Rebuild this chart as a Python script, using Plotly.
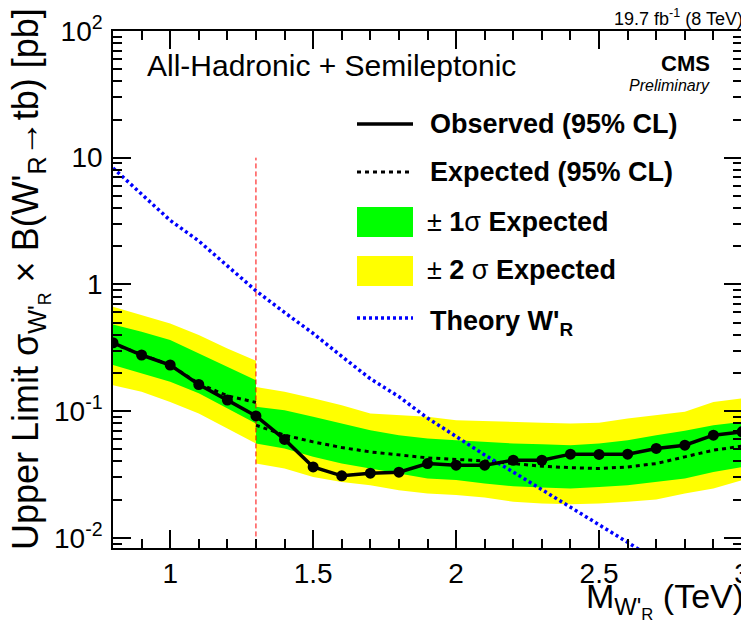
import plotly.graph_objects as go

# W'_R mass points (TeV)
mass = [0.8, 0.9, 1.0, 1.1, 1.2, 1.3, 1.4, 1.5, 1.6, 1.7, 1.8, 1.9,
        2.0, 2.1, 2.2, 2.3, 2.4, 2.5, 2.6, 2.7, 2.8, 2.9, 3.0]
observed = [0.346, 0.277, 0.231, 0.162, 0.122, 0.0916, 0.0597, 0.0362, 0.0308, 0.0323, 0.0329, 0.0385,
            0.0374, 0.0374, 0.0409, 0.0409, 0.0457, 0.0455, 0.0457, 0.0507, 0.0538, 0.0645, 0.0686]

# semileptonic region (low mass)
mass_lo = [0.8, 0.9, 1.0, 1.1, 1.2, 1.3]
exp_lo = [0.34, 0.28, 0.23, 0.165, 0.132, 0.117]
p1_lo = [0.483, 0.423, 0.363, 0.285, 0.223, 0.175]
m1_lo = [0.231, 0.198, 0.170, 0.138, 0.105, 0.0798]
p2_lo = [0.665, 0.573, 0.492, 0.398, 0.312, 0.249]
m2_lo = [0.160, 0.142, 0.118, 0.0957, 0.0729, 0.0555]

# all-hadronic region (high mass)
mass_hi = [1.3, 1.4, 1.5, 1.6, 1.7, 1.8, 1.9, 2.0, 2.1, 2.2, 2.3, 2.4, 2.5, 2.6, 2.7, 2.8, 2.9, 3.0]
exp_hi = [0.0774, 0.0645, 0.0571, 0.0515, 0.0476, 0.0449, 0.0427, 0.0415, 0.0404, 0.0385, 0.0367,
          0.0357, 0.0352, 0.0362, 0.0385, 0.0435, 0.0491, 0.0528]
p1_hi = [0.108, 0.1016, 0.090, 0.0798, 0.0706, 0.0645, 0.0608, 0.0589, 0.0571, 0.0555, 0.0548,
         0.0538, 0.0555, 0.0589, 0.0645, 0.0698, 0.0774, 0.0822]
m1_hi = [0.0555, 0.0507, 0.0435, 0.0385, 0.0352, 0.0321, 0.0294, 0.0285, 0.0268, 0.0255, 0.0249,
         0.0245, 0.0252, 0.0260, 0.0276, 0.0294, 0.0331, 0.0362]
p2_hi = [0.155, 0.142, 0.126, 0.111, 0.0957, 0.0929, 0.090, 0.0848, 0.0832, 0.0822, 0.0807,
         0.0798, 0.0807, 0.0875, 0.0929, 0.0986, 0.118, 0.126]
m2_hi = [0.0385, 0.0352, 0.0302, 0.0276, 0.0260, 0.0237, 0.0223, 0.0217, 0.0208, 0.0192, 0.0186,
         0.0184, 0.0186, 0.0192, 0.0200, 0.0223, 0.0245, 0.0285]

# theory cross section
mass_th = [0.8, 0.9, 1.0, 1.1, 1.2, 1.3, 1.4, 1.5, 1.6, 1.7, 1.8, 1.9, 2.0, 2.1, 2.2, 2.3, 2.4, 2.5, 2.6, 2.7]
theory = [8.3, 5.2, 3.2, 2.2, 1.4, 0.89, 0.60, 0.41, 0.27, 0.18, 0.13, 0.088, 0.063, 0.045,
          0.033, 0.024, 0.0175, 0.0128, 0.0092, 0.0066]

split_mass = 1.3
split_top = 10

ytick_vals = [0.01, 0.1, 1, 10, 100]
ytick_text = ["10<sup>-2</sup>", "10<sup>-1</sup>", "1", "10", "10<sup>2</sup>"]
xtick_vals = [1, 1.5, 2, 2.5, 3]
xtick_text = ["1", "1.5", "2", "2.5", "3"]

FONT = "Liberation Sans, Arial"
GREEN = "#00ff00"
YELLOW = "#ffff00"


def band(xs, hi, lo, color):
    return go.Scatter(x=xs + xs[::-1], y=hi + lo[::-1], fill="toself", fillcolor=color,
                      line=dict(width=0), mode="lines", hoverinfo="skip", showlegend=False)


fig = go.Figure()
fig.add_trace(band(mass_lo, p2_lo, m2_lo, YELLOW))
fig.add_trace(band(mass_hi, p2_hi, m2_hi, YELLOW))
fig.add_trace(band(mass_lo, p1_lo, m1_lo, GREEN))
fig.add_trace(band(mass_hi, p1_hi, m1_hi, GREEN))
for xs, ys in [(mass_lo, exp_lo), (mass_hi, exp_hi)]:
    fig.add_trace(go.Scatter(x=xs, y=ys, mode="lines", showlegend=False,
                             line=dict(color="black", width=3, dash="4px,4px")))
fig.add_trace(go.Scatter(x=mass_th, y=theory, mode="lines", showlegend=False,
                         line=dict(color="#0000ff", width=3.5, dash="3px,3px")))
fig.add_trace(go.Scatter(x=[split_mass, split_mass], y=[0.001, split_top], mode="lines", showlegend=False,
                         line=dict(color="#ff0000", width=1, dash="5px,3px")))
fig.add_trace(go.Scatter(x=mass, y=observed, mode="lines+markers", showlegend=False,
                         line=dict(color="black", width=3.5),
                         marker=dict(color="black", size=11)))

# the page body adds an 8px margin, so the figure is 8px smaller than the window
PAGE = 8
W, H = 749 - PAGE, 627 - PAGE
L, R, T, B = 105, 7, 23, 79
pw, ph = W - L - R, H - T - B


def px(x):
    return (x - PAGE - L) / pw


def py(y):
    return (H - B - (y - PAGE)) / ph


# hand-drawn legend (ROOT style)
shapes = [
    dict(type="line", xref="paper", yref="paper", x0=px(357), x1=px(413), y0=py(124), y1=py(124),
         line=dict(color="black", width=3.5)),
    dict(type="line", xref="paper", yref="paper", x0=px(357), x1=px(413), y0=py(172), y1=py(172),
         line=dict(color="black", width=3, dash="4px,4px")),
    dict(type="rect", xref="paper", yref="paper", x0=px(357), x1=px(413), y0=py(237), y1=py(207),
         fillcolor=GREEN, line=dict(width=0)),
    dict(type="rect", xref="paper", yref="paper", x0=px(357), x1=px(413), y0=py(286), y1=py(256),
         fillcolor=YELLOW, line=dict(width=0)),
    dict(type="line", xref="paper", yref="paper", x0=px(357), x1=px(413), y0=py(318), y1=py(318),
         line=dict(color="#0000ff", width=3.5, dash="3px,3px")),
]
legend_text = [
    ("<b>Observed (95% CL)</b>", 428, 124),
    ("<b>Expected (95% CL)</b>", 428, 172),
    ("± <b>1</b>σ <b>Expected</b>", 425, 222),
    ("± <b>2</b> σ <b>Expected</b>", 425, 270),
    ("<b>Theory W'<sub>R</sub></b>", 428, 323),
]
annotations = []
for txt, x, y in legend_text:
    annotations.append(dict(text=txt, xref="paper", yref="paper", x=px(x), y=py(y), xanchor="left",
                            yanchor="middle", showarrow=False, font=dict(family=FONT, size=27, color="black")))

annotations += [
    dict(text="All-Hadronic + Semileptonic", xref="paper", yref="paper", x=px(145), y=py(65),
         xanchor="left", yanchor="middle", showarrow=False, font=dict(family=FONT, size=30, color="black")),
    dict(text="<b>CMS</b>", xref="paper", yref="paper", x=px(712), y=py(64), xanchor="right",
         yanchor="middle", showarrow=False, font=dict(family=FONT, size=22, color="black")),
    dict(text="<i>Preliminary</i>", xref="paper", yref="paper", x=px(712), y=py(85), xanchor="right",
         yanchor="middle", showarrow=False, font=dict(family=FONT, size=16, color="black")),
    dict(text="19.7 fb<sup>-1</sup> (8 TeV)", xref="paper", yref="paper", x=px(745), y=py(17),
         xanchor="right", yanchor="middle", showarrow=False, font=dict(family=FONT, size=18, color="black")),
    dict(text="Upper Limit σ<sub>W'<sub>R</sub></sub> × B(W'<sub>R</sub>→tb) [pb]", xref="paper", yref="paper",
         x=px(30), y=py(6), xanchor="center", yanchor="top", textangle=-90, showarrow=False,
         font=dict(family=FONT, size=36, color="black")),
    dict(text="M<sub>W'<sub>R</sub></sub> (TeV)", xref="paper", yref="paper", x=px(746), y=py(600),
         xanchor="right", yanchor="middle", showarrow=False, font=dict(family=FONT, size=34, color="black")),
]

fig.update_layout(
    width=W, height=H,
    margin=dict(l=L, r=R, t=T, b=B),
    paper_bgcolor="white", plot_bgcolor="white",
    showlegend=False,
    shapes=shapes,
    annotations=annotations,
    xaxis=dict(range=[0.8, 3.0], tickvals=xtick_vals, ticktext=xtick_text, ticks="inside", ticklen=18,
               tickwidth=1.5, tickcolor="black", showline=True, linecolor="black", linewidth=1.5,
               mirror="ticks", showgrid=False, zeroline=False, ticklabelstandoff=0, automargin=False,
               ticklabeloverflow="allow",
               tickfont=dict(family=FONT, size=28, color="black"),
               minor=dict(dtick=0.1, tick0=0.8, ticks="inside", ticklen=9, tickcolor="black", tickwidth=1.5,
                          showgrid=False)),
    yaxis=dict(type="log", range=[-2.081, 2.0], tickvals=ytick_vals, ticktext=ytick_text, ticks="inside",
               ticklen=18, tickwidth=1.5, tickcolor="black", showline=True, linecolor="black", linewidth=1.5,
               mirror="ticks", showgrid=False, zeroline=False, ticklabelstandoff=3, automargin=False,
               ticklabeloverflow="allow",
               tickfont=dict(family=FONT, size=28, color="black"),
               minor=dict(dtick="D1", ticks="inside", ticklen=9, tickcolor="black", tickwidth=1.5,
                          showgrid=False)),
)

fig.write_html("out.html")
